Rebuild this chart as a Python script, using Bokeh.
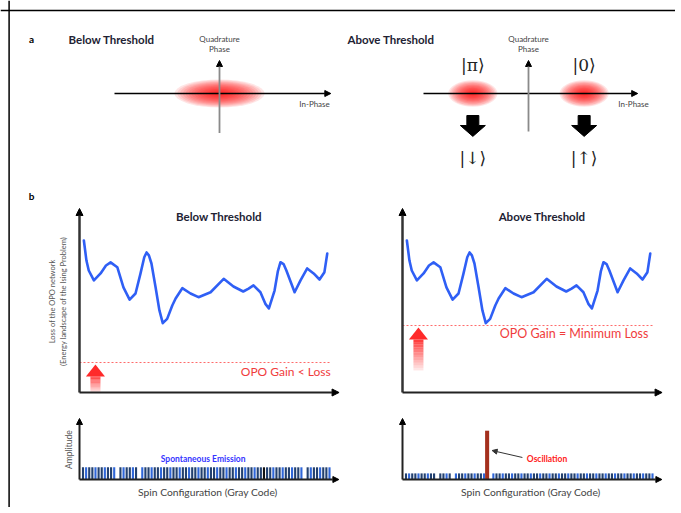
import math
from bokeh.plotting import figure
from bokeh.models import Range1d, Arrow, NormalHead, Span
from bokeh.embed import file_html
from bokeh.resources import INLINE
from bokeh.core.properties import value

# ---------------- data ----------------
# Panel a: OPO states in phase space (in-phase, quadrature)
below_state_x = [0.0]
below_state_y = [0.0]
above_state_x = [-0.53, 0.53]
above_state_y = [0.0, 0.0]
phase_kets = ["|π⟩", "|0⟩"]
spin_kets = ["|↓⟩", "|↑⟩"]

# Panel b: loss landscape over spin configurations
config_pos = [1.7, 2.7, 3.6, 5.6, 8.2, 10.3, 12.1, 14.7, 17.1, 19.5,
              21.8, 23.7, 25.2, 26.1, 27.0, 28.0, 29.6, 31.1, 32.4, 34.1,
              36.1, 37.4, 40.0, 43.2, 46.3, 51.0, 56.1, 59.9, 63.7, 65.8,
              67.7, 70.4, 72.4, 73.7, 75.9, 77.2, 78.2, 79.4, 80.5, 83.7,
              86.0, 88.6, 91.1, 93.4, 95.3, 96.4]
loss_vals = [82.6, 71.7, 66.3, 60.9, 64.7, 69.0, 70.7, 68.1, 57.1, 50.5,
             53.8, 64.5, 73.5, 76.1, 74.5, 70.1, 57.2, 44.6, 37.7, 40.0,
             47.3, 51.1, 56.7, 53.8, 51.8, 54.5, 61.8, 57.6, 54.9, 56.5,
             58.2, 54.5, 48.0, 45.7, 55.4, 66.0, 70.8, 69.8, 66.3, 54.5,
             60.9, 67.4, 64.7, 61.4, 65.4, 75.5]
gain_below = 16.3
gain_above = 36.4

# Amplitude per spin configuration (80 configurations, Gray code order)
amp_below = [20, 20, 20, 20, 20, 20, 20, 20, 20, 20, 20, 0, 20, 20, 20, 20, 20, 20, 0, 20,
             20, 20, 20, 20, 20, 20, 20, 20, 20, 20, 20, 20, 20, 20, 20, 20, 20, 20, 20, 20,
             20, 20, 20, 20, 20, 20, 20, 20, 20, 20, 20, 20, 20, 20, 20, 20, 20, 20, 20, 20,
             20, 20, 20, 20, 20, 20, 20, 20, 20, 20, 20, 0, 20, 20, 20, 20, 20, 20, 20, 20]
amp_above = [10, 10, 10, 10, 10, 10, 10, 10, 10, 10, 0, 10, 10, 10, 10, 0, 10, 10, 10, 10,
             10, 10, 10, 10, 10, 10, 80, 0, 10, 10, 10, 10, 10, 10, 10, 10, 10, 10, 10, 10,
             10, 10, 10, 10, 10, 10, 10, 10, 10, 10, 10, 10, 10, 10, 10, 10, 10, 10, 10, 10,
             10, 10, 10, 10, 10, 10, 10, 10, 10, 10, 10, 10, 10, 10, 10, 10, 10, 10, 10, 10]
osc_index = 26
config_idx = list(range(len(amp_below)))

# ---------------- layout helpers ----------------
W, H = 675, 507
OX, OY = 0, 0


def xr(d0, p0, d1, p1):
    s = (p1 - p0) / (d1 - d0)
    start = d0 - (p0 - OX) / s
    return Range1d(start, start + W / s)


def yr(d0, p0, d1, p1):
    b0 = OY + H - p0
    b1 = OY + H - p1
    s = (b1 - b0) / (d1 - d0)
    start = d0 - b0 / s
    return Range1d(start, start + H / s)


p = figure(width=W, height=H, x_range=xr(0, 0, 1, 1), y_range=yr(0, 0, 1, 1),
           output_backend="svg", toolbar_location=None, x_axis_type=None,
           y_axis_type=None, min_border=0, outline_line_color=None)
p.extra_x_ranges = {"aL": xr(0, 219, 1, 324), "aR": xr(0, 528, 1, 633),
                    "bL": xr(0, 79, 100, 336), "bR": xr(0, 402, 100, 659),
                    "cL": xr(0, 82.5, 79, 329), "cR": xr(0, 405.5, 79, 652)}
p.extra_y_ranges = {"a": yr(0, 93, 1, 60), "b": yr(0, 392, 100, 208),
                    "c": yr(0, 479, 100, 418)}

FONT = "Lato"
HEAD = "#222233"


def txt(x, y, s, xn, yn, size, color, style="normal", align="center", angle=0.0, font=FONT):
    p.text(x=[x], y=[y], text=[s], x_range_name=xn, y_range_name=yn,
           text_font=value(font), text_font_size=size, text_color=color,
           text_font_style=style, text_align=align, text_baseline="middle", angle=angle)


def axis_arrow(x0, y0, x1, y1, xn, yn, color="black", lw=1.5, hs=7):
    p.add_layout(Arrow(end=NormalHead(size=hs, fill_color="black", line_color="black", line_width=1),
                       x_start=x0, y_start=y0, x_end=x1, y_end=y1, line_color=color,
                       line_width=lw, x_range_name=xn, y_range_name=yn))


def glow(xs, ys, w, h, xn, yn, n=16):
    for k in range(n):
        f = 1 - k / n
        p.ellipse(x=xs, y=ys, width=w * f, height=h * f, fill_color="#ff0000",
                  fill_alpha=0.1, line_color=None, x_range_name=xn, y_range_name=yn)


# frame lines
p.add_layout(Span(location=10, dimension="width", line_color="black", line_width=1.5))
p.add_layout(Span(location=8.6, dimension="height", line_color="black", line_width=1.5))

# ---------------- panel a ----------------
txt(31, 38, "a", "default", "default", "10px", "black", "bold")
txt(68, 39, "Below Threshold", "default", "default", "11.5px", HEAD, "bold", "left")
txt(347, 39, "Above Threshold", "default", "default", "11.5px", HEAD, "bold", "left")

for xn, xl, xr_, yb in (("aL", -1.0, 1.06, -1.2), ("aR", -1.0, 1.04, -1.15)):
    axis_arrow(xl, 0, xr_, 0, xn, "a", "black", 1.3, 6)
    axis_arrow(0, yb, 0, 1.0, xn, "a", "#8a8a8a", 1.8, 6)
    txt(0, 1.66, "Quadrature", xn, "a", "8px", "#444444")
    txt(0, 1.36, "Phase", xn, "a", "8px", "#444444")
txt(0.905, -0.33, "In-Phase", "aL", "a", "8px", "#444444")
txt(1.0, -0.33, "In-Phase", "aR", "a", "8px", "#444444")

glow(below_state_x, below_state_y, 0.86, 0.85, "aL", "a")
glow(above_state_x, above_state_y, 0.47, 0.8, "aR", "a")

p.text(x=above_state_x, y=[0.85, 0.85], text=phase_kets, x_range_name="aR", y_range_name="a",
       text_font=value("DejaVu Serif"), text_font_size="17px", text_color="#222222",
       text_align="center", text_baseline="middle")
p.text(x=above_state_x, y=[-1.94, -1.94], text=spin_kets, x_range_name="aR", y_range_name="a",
       text_font=value("DejaVu Serif"), text_font_size="17px", text_color="#222222",
       text_align="center", text_baseline="middle")

hs_, hh_ = 6 / 105, 12.5 / 105
yt, ym, ytip = -0.667, -0.97, -1.30
p.patches(xs=[[x - hs_, x + hs_, x + hs_, x + hh_, x, x - hh_, x - hs_] for x in above_state_x],
          ys=[[yt, yt, ym, ym, ytip, ym, ym] for _ in above_state_x],
          fill_color="black", line_color="black", x_range_name="aR", y_range_name="a")

# ---------------- panel b ----------------
txt(31, 195, "b", "default", "default", "10px", "black", "bold")
BLUE = "#2f5ff5"
for xn, title, gain, xend, dash_end in (("bL", "Below Threshold", gain_below, 101, 98),
                                        ("bR", "Above Threshold", gain_above, 101, 97.3)):
    axis_arrow(0, 0, 0, 100, xn, "b", "#333333", 2.5, 7)
    axis_arrow(0, 0, xend, 0, xn, "b", "#222222", 2.2, 7)
    txt(54.3, 95.7, title, xn, "b", "11.5px", HEAD, "bold")
    p.line(x=config_pos, y=loss_vals, x_range_name=xn, y_range_name="b",
           line_color=BLUE, line_width=2.6, line_join="round", line_cap="round")
    p.segment(x0=[0], y0=[gain], x1=[dash_end], y1=[gain], x_range_name=xn, y_range_name="b",
              line_color="#ff6a6a", line_width=1, line_dash="2 2")
    # gain arrow (fading)
    ax = 6.2
    tip = gain - 1.1
    base = tip - 6.5
    bottom = 0.0 if xn == "bL" else 12.0
    n = 12
    seg = (base - bottom) / n
    for k in range(n):
        a = 0.85 * (1 - k / n) + 0.05
        p.quad(left=[ax - 1.95], right=[ax + 1.95], top=[base - k * seg],
               bottom=[base - (k + 1) * seg], fill_color="#ff2a2a", fill_alpha=a,
               line_color=None, x_range_name=xn, y_range_name="b")
    p.patch(x=[ax - 3.7, ax + 3.7, ax], y=[base, base, tip], fill_color="#ff2a2a",
            line_color=None, x_range_name=xn, y_range_name="b")

txt(-10.4, 49.5, "Loss of the OPO network", "bL", "b", "7.5px", "#555555", angle=math.pi / 2)
txt(-6.4, 49.5, "(Energy landscape of the Ising Problem)", "bL", "b", "7.5px", "#555555",
    angle=math.pi / 2)
txt(97.7, 11.2, "OPO Gain < Loss", "bL", "b", "12px", "#f03c3c", align="right")
txt(95.7, 32.0, "OPO Gain = Minimum Loss", "bR", "b", "12.5px", "#f03c3c", align="right")

# ---------------- amplitude panels ----------------
bar_cols_below = []
bar_cols_above = []
for i in config_idx:
    c = "#2f66d8" if i % 3 == 1 else "#22406f"
    bar_cols_below.append("#111111" if i == 58 else c)
    bar_cols_above.append("#a4301e" if i == osc_index else c)

for xn, amps, cols in (("cL", amp_below, bar_cols_below), ("cR", amp_above, bar_cols_above)):
    widths = [1.3 if (xn == "cR" and i == osc_index) else 0.68 for i in config_idx]
    p.vbar(x=config_idx, top=amps, bottom=0, width=widths, fill_color=cols, line_color=None,
           x_range_name=xn, y_range_name="c")
    axis_arrow(-1.12, 0, -1.12, 100, xn, "c", "#222222", 2.0, 6)
    axis_arrow(-1.12, 0, 82.0, 0, xn, "c", "#222222", 2.0, 6)
    txt(40.0, -21, "Spin Configuration (Gray Code)", xn, "c", "10.3px", "#444444")

txt(-4.6, 49, "Amplitude", "cL", "c", "8.5px", "#555555", angle=math.pi / 2)
txt(38.5, 34.4, "Spontaneous Emission", "cL", "c", "8.5px", "#3535ff", "bold")
txt(45.2, 32.8, "Oscillation", "cR", "c", "8.5px", "#ff2020", "bold")
p.add_layout(Arrow(end=NormalHead(size=5, fill_color="#333333", line_color="#333333"),
                   x_start=37.3, y_start=36.1, x_end=osc_index + 1.6, y_end=47.5,
                   line_color="#333333", line_width=1, x_range_name="cR", y_range_name="c"))

open("out.html", "w").write(file_html(p, INLINE))
